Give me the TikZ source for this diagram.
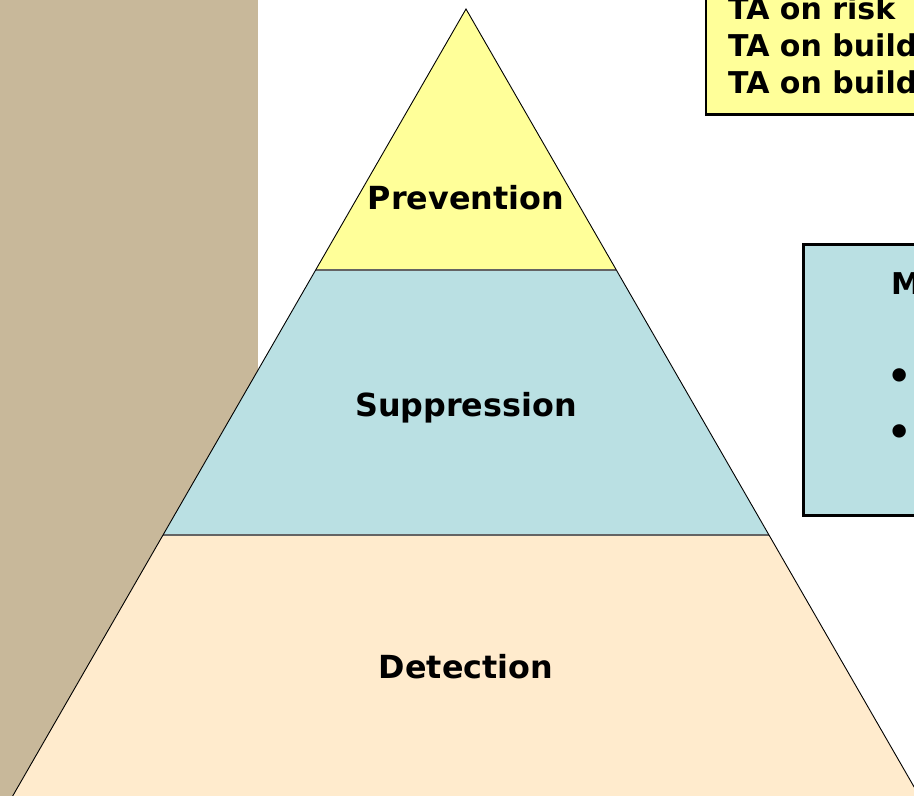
\documentclass[tikz,border=0pt]{standalone}
\usepackage{fontspec}
\setmainfont{DejaVu Sans}
\definecolor{beigeside}{RGB}{200,184,154}
\definecolor{prevfill}{RGB}{255,255,153}
\definecolor{supfill}{RGB}{186,224,227}
\definecolor{detfill}{RGB}{255,235,205}
\definecolor{midline}{RGB}{100,100,100}
\begin{document}
\begin{tikzpicture}[x=1pt,y=-1pt,
  lbl/.style={font=\fontsize{31.8}{37}\selectfont\bfseries, text=black, inner sep=0, anchor=base},
  boxtxt/.style={font=\fontsize{30}{37}\selectfont\bfseries, anchor=base west, inner sep=0},
  infobox/.style={draw=black, line width=2.2pt, anchor=north west, inner sep=0, outer sep=0},
  bul/.style={font=\fontsize{38}{40}\selectfont\bfseries, inner sep=0}]
\useasboundingbox (0,0) rectangle (914,796);
\clip (0,0) rectangle (914,796);
% left side panel
\fill[beigeside] (0,-5) rectangle (258,801);
% pyramid corners
\coordinate (apex) at (466,9);
\coordinate (pl) at (315.7,270);
\coordinate (pr) at (616.3,270);
\coordinate (sl) at (163,535);
\coordinate (sr) at (769,535);
\coordinate (bl) at (7.5,805);
\coordinate (br) at (924.5,805);
\fill[prevfill] (apex) -- (pr) -- (pl) -- cycle;
\fill[supfill] (pl) -- (pr) -- (sr) -- (sl) -- cycle;
\fill[detfill] (sl) -- (sr) -- (br) -- (bl) -- cycle;
\draw[midline, line width=1.3pt] (pl) -- (pr);
\draw[midline, line width=2.8pt] (sl) -- (sr);
\draw[black, line width=0.9pt, line join=miter] (bl) -- (apex) -- (br);
% labels
\node[lbl] (prev) at (466,209) {Prevention};
\node[lbl] (supp) at (466,416) {Suppression};
\node[lbl] (dete) at (466,678) {Detection};
% top right box
\node[infobox, fill=prevfill, minimum width=300pt, minimum height=126.5pt] (tabox) at (706,-12) {};
\node[boxtxt] (ta1) at (728,19) {TA on risk};
\node[boxtxt] (ta2) at (728,56) {TA on build};
\node[boxtxt] (ta3) at (728,93) {TA on build};
% right box
\node[infobox, fill=supfill, minimum width=300pt, minimum height=271pt] (mbox) at (803.5,244.5) {};
\node[boxtxt] (mhead) at (891,294) {M};
\node[bul] (b1) at (900,379) {•};
\node[bul] (b2) at (900,435) {•};
\end{tikzpicture}
\end{document}
